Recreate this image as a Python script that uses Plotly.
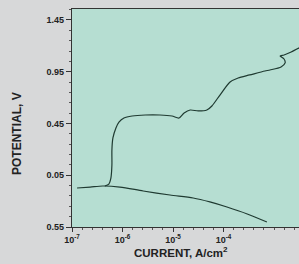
import numpy as np
import plotly.graph_objects as go

# Cathodic branch: current (A/cm^2) and potential (V)
cath_current = [1.26e-7, 2.29e-7, 4.07e-7, 8.9e-7, 2.57e-6, 8.7e-6, 2.51e-5, 5.37e-5, 1.17e-4, 2.95e-4, 7.24e-4]
cath_potential = [-0.173, -0.164, -0.154, -0.164, -0.202, -0.241, -0.270, -0.308, -0.357, -0.424, -0.502]

# Anodic branch
anod_current = [4.47e-7, 5.37e-7, 5.89e-7, 6.17e-7, 6.17e-7, 6.46e-7, 7.41e-7, 8.51e-7, 1.07e-6,
                1.55e-6, 2.82e-6, 5.5e-6, 9.55e-6, 1.32e-5, 1.66e-5, 2.19e-5, 3.16e-5, 4.68e-5,
                5.89e-5, 8.51e-5, 1.35e-4, 1.95e-4, 3.31e-4, 6.61e-4, 8.32e-4, 1.38e-3, 1.66e-3,
                1.58e-3, 1.32e-3, 1.58e-3, 2.19e-3, 3.16e-3, 5.13e-3]
anod_potential = [-0.154, -0.135, -0.077, 0.049, 0.194, 0.31, 0.407, 0.464, 0.503,
                  0.522, 0.532, 0.532, 0.522, 0.503, 0.551, 0.58, 0.571, 0.58,
                  0.619, 0.725, 0.851, 0.890, 0.919, 0.957, 0.967, 0.996, 1.035,
                  1.073, 1.102, 1.112, 1.141, 1.18, 1.21]

x_tickvals = [-7, -6, -5, -4]
x_ticktext = ["10<sup>-7</sup>", "10<sup>-6</sup>", "10<sup>-5</sup>", "10<sup>-4</sup>"]
y_tickvals = [1.45, 0.95, 0.45, -0.05, -0.55]
y_ticktext = ["1.45", "0.95", "0.45", "0.05", "0.55"]

line_color = "#1f3a31"
font_fam = "Liberation Sans, Arial, sans-serif"
tick_fam = "Liberation Sans Narrow, Liberation Sans, Arial, sans-serif"
paper_col = "#d7d8d9"

fig = go.Figure()
fig.add_trace(go.Scatter(x=np.log10(cath_current), y=cath_potential, mode="lines",
                         line=dict(color=line_color, width=1.2, shape="spline", smoothing=0.8),
                         showlegend=False, hoverinfo="skip"))
fig.add_trace(go.Scatter(x=np.log10(anod_current), y=anod_potential, mode="lines",
                         line=dict(color=line_color, width=1.2, shape="spline", smoothing=0.8),
                         showlegend=False, hoverinfo="skip"))

fig.update_layout(
    width=299, height=264,
    margin=dict(l=72, r=0, t=9, b=37),
    paper_bgcolor=paper_col,
    plot_bgcolor="#b6ded2",
    font=dict(family=font_fam, color="#222", size=8),
    xaxis=dict(range=[-7, -2.505], tickvals=x_tickvals, ticktext=x_ticktext,
               showgrid=False, zeroline=False, showline=True, linecolor="#333", linewidth=1.2,
               mirror=True, ticks="outside", ticklen=4, tickcolor="#333",
               tickfont=dict(size=9, family=tick_fam, weight="bold"),
               minor=dict(dtick=0.2, tick0=-7, ticks="outside", ticklen=2, tickcolor="#555")),
    yaxis=dict(range=[-0.55, 1.556], tickvals=y_tickvals, ticktext=y_ticktext,
               showgrid=False, zeroline=False, showline=True, linecolor="#333", linewidth=1.2,
               ticks="outside", ticklen=5, tickcolor="#333",
               tickfont=dict(size=9, family=tick_fam, weight="bold"),
               minor=dict(dtick=0.1, tick0=-0.55, ticks="outside", ticklen=2, tickcolor="#555")),
    annotations=[
        dict(text="POTENTIAL, V", x=17, y=134, xref="paper", yref="paper", showarrow=False,
             textangle=-90, font=dict(size=12, family=font_fam, weight="bold", color="#222"),
             xanchor="center", yanchor="middle"),
        dict(text="CURRENT, A/cm<sup>2</sup>", x=181, y=252, xref="paper", yref="paper",
             showarrow=False, font=dict(size=11.5, family=font_fam, weight="bold", color="#222"),
             xanchor="center", yanchor="middle"),
    ],
)

# convert annotation pixel positions to paper coordinates
pw = 299 - 72 - 0
ph = 264 - 9 - 37
for a in fig.layout.annotations:
    a.x = (a.x - 72) / pw
    a.y = (264 - 37 - a.y) / ph

fig.write_html("out.html",
               config={"displayModeBar": False},
               post_script="document.body.style.margin='0';document.body.style.overflow='hidden';"
                           "document.body.style.background='" + paper_col + "';")
